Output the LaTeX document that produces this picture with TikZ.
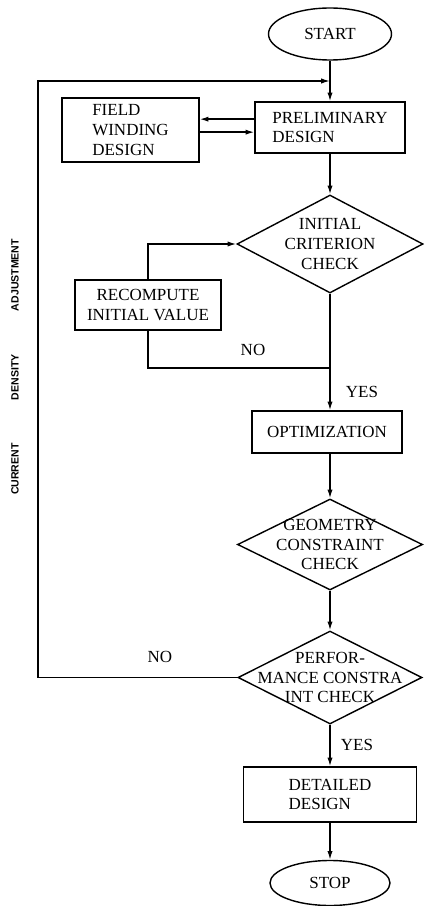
\documentclass[tikz,border=0pt]{standalone}
\usepackage{fontspec}
\setmainfont{Liberation Serif}
\newfontfamily\sidefont{Liberation Sans}
\usepackage{tikz}
\usetikzlibrary{arrows.meta}
\usetikzlibrary{shapes.geometric}

\begin{document}
\begin{tikzpicture}[x=0.03cm, y=-0.03cm, >={Latex[length=7.5pt,width=4.5pt]}, line width=1.2pt,
    txt/.style={font=\fontsize{14.5}{17}\selectfont},
    box/.style={txt, draw, rectangle, inner sep=2pt},
    terminal/.style={txt, draw, ellipse, inner sep=0pt},
    decision/.style={txt, draw, diamond, align=center, aspect=2, inner sep=-12pt}]
      \useasboundingbox (0,0) rectangle (425,906);

      \node[terminal, minimum width=3.69cm, minimum height=1.56cm] (start) at (330,34) {START};
      \node[box, align=left, minimum width=4.5cm, minimum height=1.53cm] (prelim) at (330,127.5) {PRELIMINARY\\DESIGN};
      \node[box, align=left, minimum width=4.11cm, minimum height=1.92cm] (field) at (130.5,130) {FIELD\\WINDING\\DESIGN};
      \node[decision, minimum width=5.58cm, minimum height=2.94cm] (init) at (330,244) {INITIAL\\CRITERION\\CHECK};
      \node[box, align=center, minimum width=4.38cm, minimum height=1.5cm] (recomp) at (148,305) {RECOMPUTE\\INITIAL VALUE};
      \node[box, minimum width=4.5cm, minimum height=1.26cm] (opt) at (327,432) {OPTIMIZATION};
      \node[decision, minimum width=5.55cm, minimum height=2.73cm] (geom) at (330,544.5) {GEOMETRY\\CONSTRAINT\\CHECK};
      \node[decision, minimum width=5.52cm, minimum height=2.79cm] (perf) at (330,677.5) {PERFOR-\\MANCE CONSTRA\\INT CHECK};
      \node[box, align=left, minimum width=5.19cm, minimum height=1.65cm] (det) at (330,794.5) {DETAILED\\DESIGN};
      \node[terminal, minimum width=3.6cm, minimum height=1.35cm] (stop) at (330,883) {STOP};

      \node[txt] (no1) at (253,350) {NO};
      \node[txt] (yes1) at (362,392) {YES};
      \node[txt] (no2) at (160,657) {NO};
      \node[txt] (yes2) at (357,745) {YES};
      \node[rotate=90, font=\sidefont\bfseries\fontsize{9}{10}\selectfont] (adjust) at (15,367)
        {CURRENT\hspace{1.3cm}DENSITY\hspace{1.3cm}ADJUSTMENT};

      \coordinate (fbtop) at (38,81);
      \coordinate (fbjoin) at (330,81);
      \coordinate (nojoin) at (330,368);

      \draw[->] (start) -- (prelim);
      \draw[->] ([yshift=0.25cm]prelim.west) -- ([yshift=0.25cm]prelim.west -| field.east);
      \draw[->] ([yshift=-0.14cm]prelim.west -| field.east) -- ([yshift=-0.14cm]prelim.west);
      \draw[->] (prelim) -- (init);
      \draw[->] (recomp.north) |- (init.west);
      \draw (recomp.south) |- (nojoin);
      \draw[->] (init) -- (opt.north -| init);
      \draw[->] (opt.south -| geom) -- (geom);
      \draw[->] (geom) -- (perf);
      \draw[->] (perf) -- (det);
      \draw[->] (det) -- (stop);
      \draw[->] (perf.west) -| (fbtop) -- (fbjoin);
    \end{tikzpicture}
\end{document}
